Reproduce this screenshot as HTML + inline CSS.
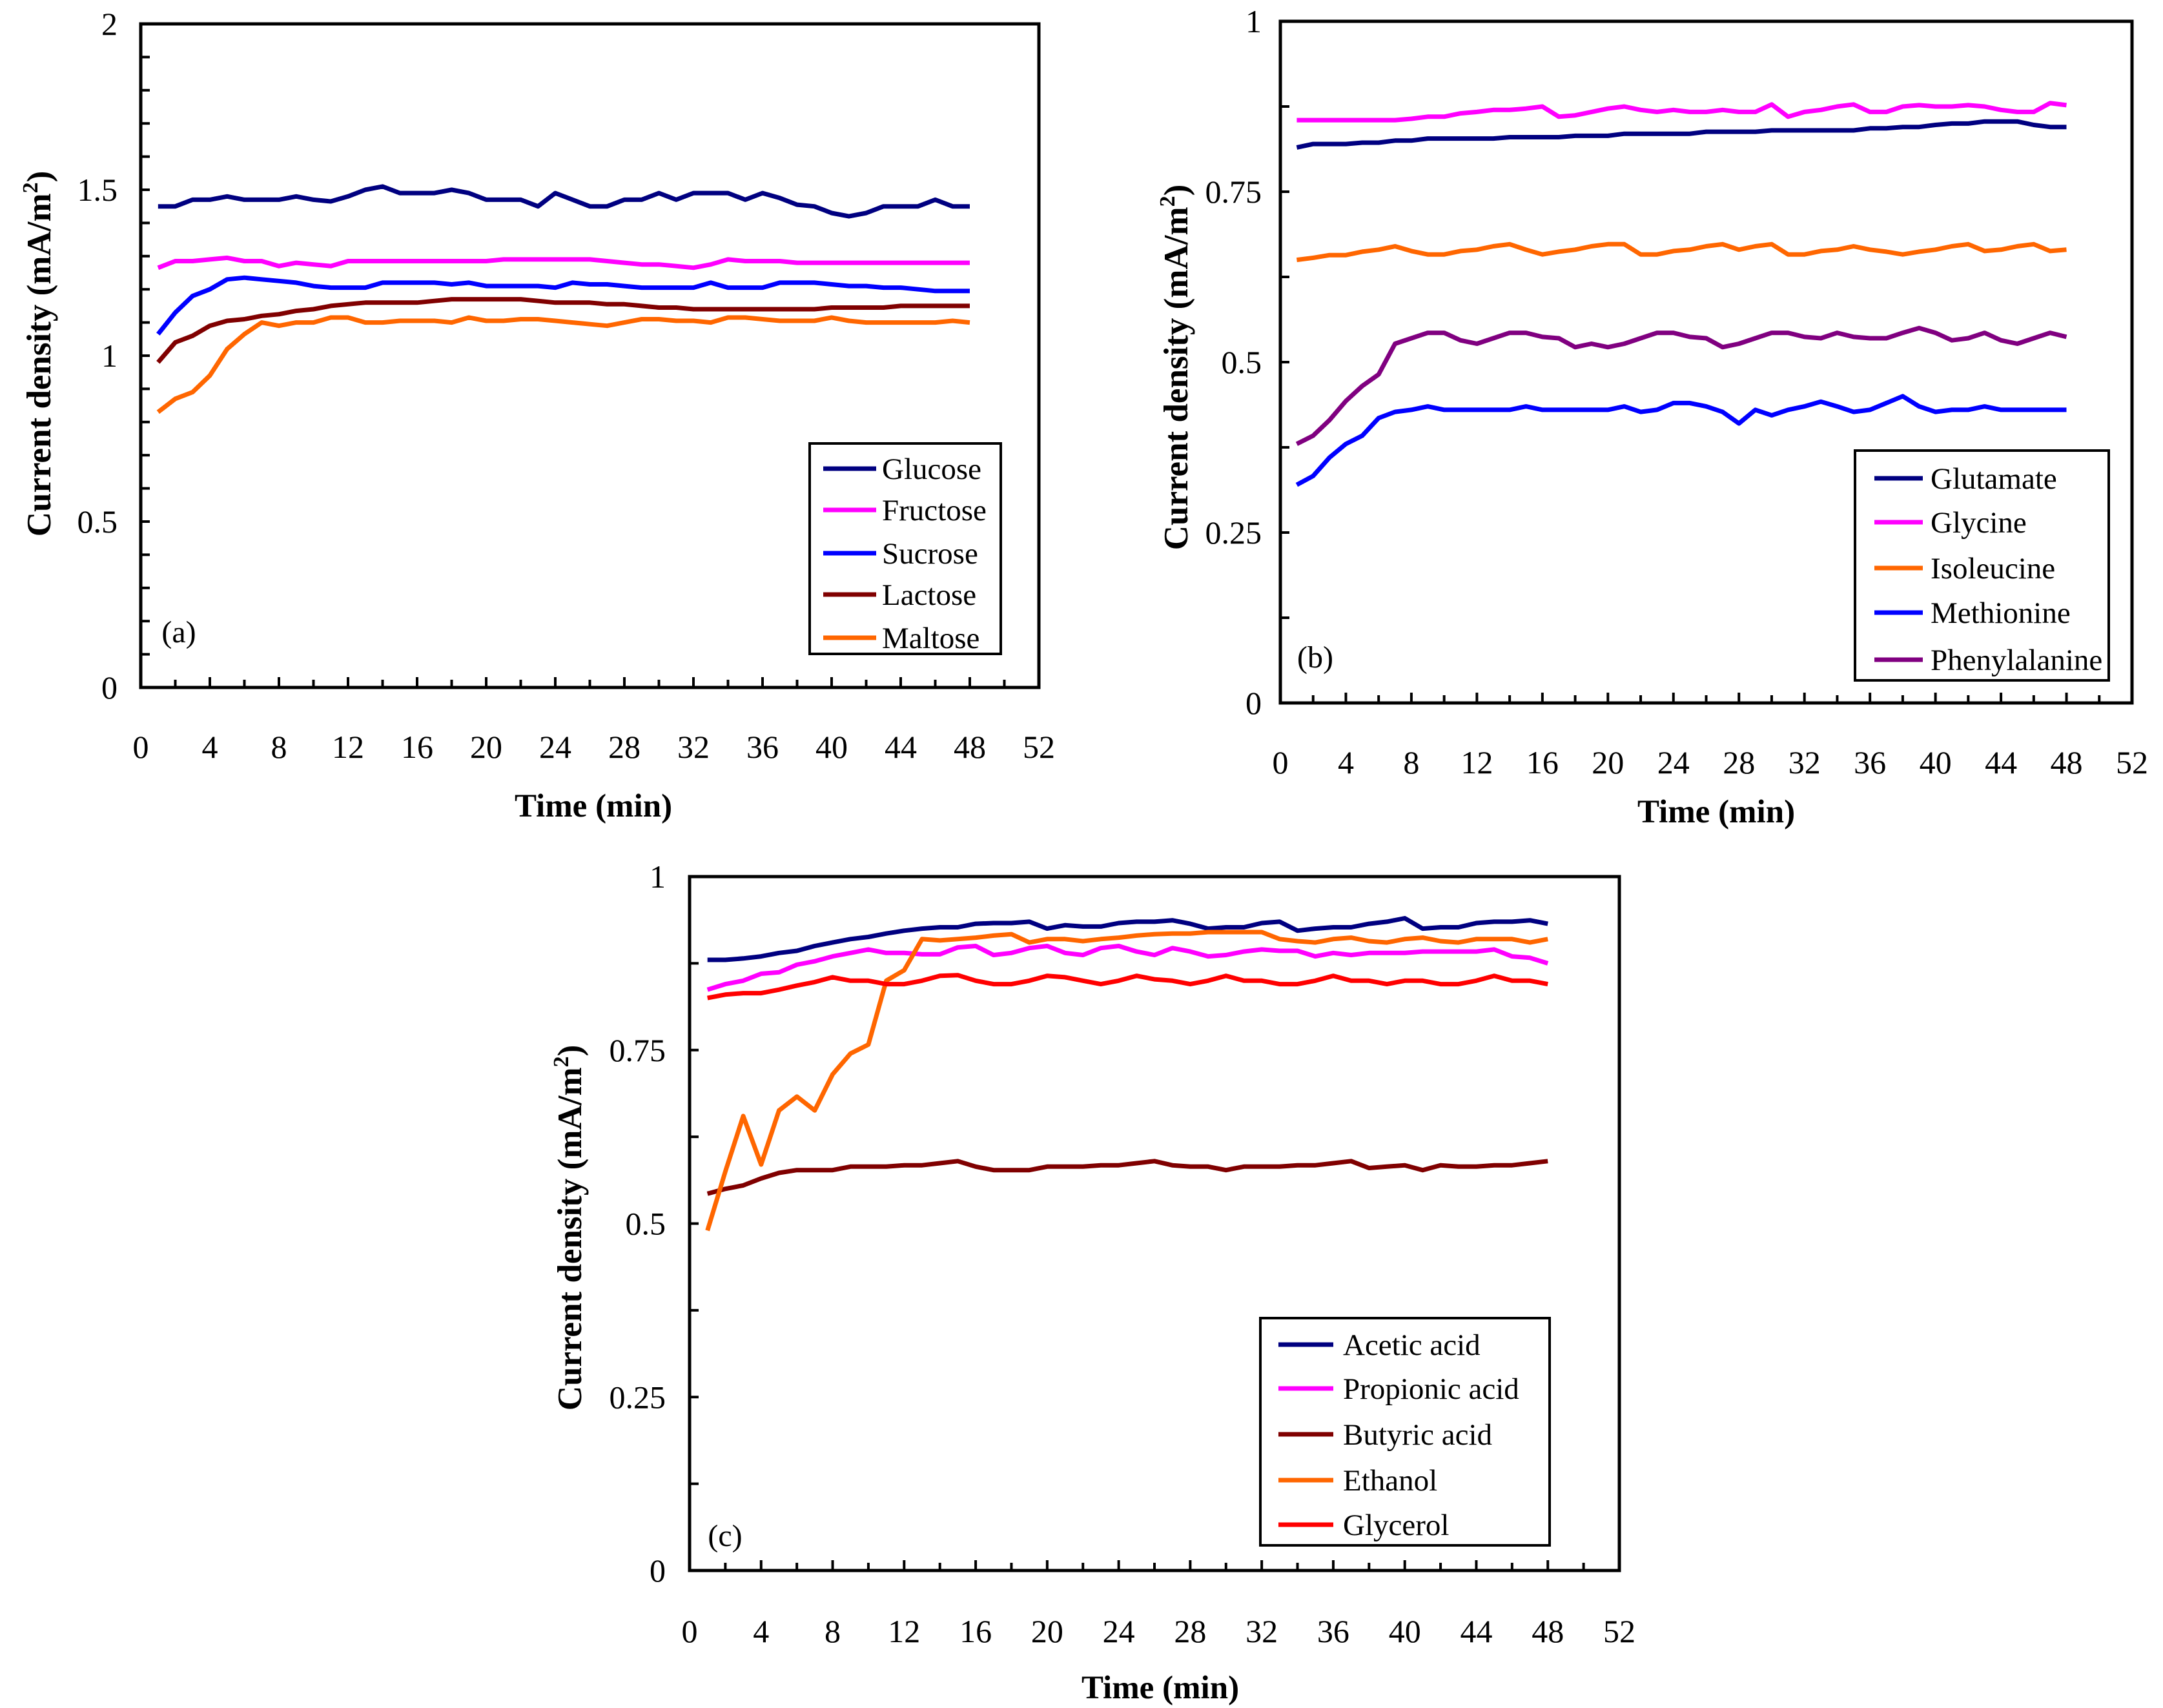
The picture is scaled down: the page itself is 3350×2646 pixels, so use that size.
<!DOCTYPE html>
<html><head><meta charset="utf-8"><style>
html,body{margin:0;padding:0;background:#fff}
svg{display:block}
text{font-family:"Liberation Serif",serif;fill:#000}
</style></head><body>
<svg id="fig" width="3350" height="2646" viewBox="0 0 3350 2646" xmlns="http://www.w3.org/2000/svg"></svg>
<script>
const xTicks=[0,4,8,12,16,20,24,28,32,36,40,44,48,52];
const aYTicks=[0,0.5,1,1.5,2];
const aYLabels=["0","0.5","1","1.5","2"];
const bYTicks=[0,0.25,0.5,0.75,1];
const bYLabels=["0","0.25","0.5","0.75","1"];
const aNames=["Glucose","Fructose","Sucrose","Lactose","Maltose"];
const bNames=["Glutamate","Glycine","Isoleucine","Methionine","Phenylalanine"];
const cNames=["Acetic acid","Propionic acid","Butyric acid","Ethanol","Glycerol"];
const glucose=[1.45,1.45,1.47,1.47,1.48,1.47,1.47,1.47,1.48,1.47,1.465,1.48,1.50,1.51,1.49,1.49,1.49,1.50,1.49,1.47,1.47,1.47,1.45,1.49,1.47,1.45,1.45,1.47,1.47,1.49,1.47,1.49,1.49,1.49,1.47,1.49,1.475,1.455,1.45,1.43,1.42,1.43,1.45,1.45,1.45,1.47,1.45,1.45];
const fructose=[1.265,1.285,1.285,1.29,1.295,1.285,1.285,1.27,1.28,1.275,1.27,1.285,1.285,1.285,1.285,1.285,1.285,1.285,1.285,1.285,1.29,1.29,1.29,1.29,1.29,1.29,1.285,1.28,1.275,1.275,1.27,1.265,1.275,1.29,1.285,1.285,1.285,1.28,1.28,1.28,1.28,1.28,1.28,1.28,1.28,1.28,1.28,1.28];
const sucrose=[1.065,1.13,1.18,1.20,1.23,1.235,1.23,1.225,1.22,1.21,1.205,1.205,1.205,1.22,1.22,1.22,1.22,1.215,1.22,1.21,1.21,1.21,1.21,1.205,1.22,1.215,1.215,1.21,1.205,1.205,1.205,1.205,1.22,1.205,1.205,1.205,1.22,1.22,1.22,1.215,1.21,1.21,1.205,1.205,1.2,1.195,1.195,1.195];
const lactose=[0.98,1.04,1.06,1.09,1.105,1.11,1.12,1.125,1.135,1.14,1.15,1.155,1.16,1.16,1.16,1.16,1.165,1.17,1.17,1.17,1.17,1.17,1.165,1.16,1.16,1.16,1.155,1.155,1.15,1.145,1.145,1.14,1.14,1.14,1.14,1.14,1.14,1.14,1.14,1.145,1.145,1.145,1.145,1.15,1.15,1.15,1.15,1.15];
const maltose=[0.83,0.87,0.89,0.94,1.02,1.065,1.1,1.09,1.1,1.1,1.115,1.115,1.1,1.1,1.105,1.105,1.105,1.1,1.115,1.105,1.105,1.11,1.11,1.105,1.1,1.095,1.09,1.1,1.11,1.11,1.105,1.105,1.1,1.115,1.115,1.11,1.105,1.105,1.105,1.115,1.105,1.1,1.1,1.1,1.1,1.1,1.105,1.1];
const glutamate=[0.815,0.82,0.82,0.82,0.822,0.822,0.825,0.825,0.828,0.828,0.828,0.828,0.828,0.83,0.83,0.83,0.83,0.832,0.832,0.832,0.835,0.835,0.835,0.835,0.835,0.838,0.838,0.838,0.838,0.84,0.84,0.84,0.84,0.84,0.84,0.843,0.843,0.845,0.845,0.848,0.85,0.85,0.853,0.853,0.853,0.848,0.845,0.845];
const glycine=[0.855,0.855,0.855,0.855,0.855,0.855,0.855,0.857,0.86,0.86,0.865,0.867,0.87,0.87,0.872,0.875,0.86,0.862,0.867,0.872,0.875,0.87,0.867,0.87,0.867,0.867,0.87,0.867,0.867,0.878,0.86,0.867,0.87,0.875,0.878,0.867,0.867,0.875,0.877,0.875,0.875,0.877,0.875,0.87,0.867,0.867,0.88,0.877];
const isoleucine=[0.65,0.653,0.657,0.657,0.662,0.665,0.67,0.663,0.658,0.658,0.663,0.665,0.67,0.673,0.665,0.658,0.662,0.665,0.67,0.673,0.673,0.658,0.658,0.663,0.665,0.67,0.673,0.665,0.67,0.673,0.658,0.658,0.663,0.665,0.67,0.665,0.662,0.658,0.662,0.665,0.67,0.673,0.663,0.665,0.67,0.673,0.663,0.665];
const methionine=[0.32,0.333,0.36,0.38,0.392,0.418,0.427,0.43,0.435,0.43,0.43,0.43,0.43,0.43,0.435,0.43,0.43,0.43,0.43,0.43,0.435,0.427,0.43,0.44,0.44,0.435,0.427,0.41,0.43,0.422,0.43,0.435,0.442,0.435,0.427,0.43,0.44,0.45,0.435,0.427,0.43,0.43,0.435,0.43,0.43,0.43,0.43,0.43];
const phenylalanine=[0.38,0.392,0.415,0.443,0.465,0.482,0.527,0.535,0.543,0.543,0.532,0.527,0.535,0.543,0.543,0.537,0.535,0.522,0.527,0.522,0.527,0.535,0.543,0.543,0.537,0.535,0.522,0.527,0.535,0.543,0.543,0.537,0.535,0.543,0.537,0.535,0.535,0.543,0.55,0.543,0.532,0.535,0.543,0.532,0.527,0.535,0.543,0.537];
const acetic=[0.88,0.88,0.882,0.885,0.89,0.893,0.9,0.905,0.91,0.913,0.918,0.922,0.925,0.927,0.927,0.932,0.933,0.933,0.935,0.925,0.93,0.928,0.928,0.933,0.935,0.935,0.937,0.932,0.925,0.927,0.927,0.933,0.935,0.922,0.925,0.927,0.927,0.932,0.935,0.94,0.925,0.927,0.927,0.933,0.935,0.935,0.937,0.932];
const propionic=[0.837,0.845,0.85,0.86,0.862,0.873,0.878,0.885,0.89,0.895,0.89,0.89,0.888,0.888,0.898,0.9,0.887,0.89,0.897,0.9,0.89,0.887,0.897,0.9,0.892,0.887,0.897,0.892,0.885,0.887,0.892,0.895,0.893,0.893,0.885,0.89,0.887,0.89,0.89,0.89,0.892,0.892,0.892,0.892,0.895,0.885,0.883,0.875];
const butyric=[0.543,0.55,0.555,0.565,0.573,0.577,0.577,0.577,0.582,0.582,0.582,0.584,0.584,0.587,0.59,0.582,0.577,0.577,0.577,0.582,0.582,0.582,0.584,0.584,0.587,0.59,0.584,0.582,0.582,0.577,0.582,0.582,0.582,0.584,0.584,0.587,0.59,0.58,0.582,0.584,0.577,0.584,0.582,0.582,0.584,0.584,0.587,0.59];
const ethanol=[0.49,0.575,0.655,0.585,0.663,0.683,0.663,0.715,0.745,0.758,0.85,0.865,0.91,0.908,0.91,0.912,0.915,0.917,0.905,0.91,0.91,0.907,0.91,0.912,0.915,0.917,0.918,0.918,0.92,0.92,0.92,0.92,0.91,0.907,0.905,0.91,0.912,0.907,0.905,0.91,0.912,0.907,0.905,0.91,0.91,0.91,0.905,0.91];
const glycerol=[0.825,0.83,0.832,0.832,0.837,0.843,0.848,0.855,0.85,0.85,0.845,0.845,0.85,0.857,0.858,0.85,0.845,0.845,0.85,0.857,0.855,0.85,0.845,0.85,0.857,0.852,0.85,0.845,0.85,0.857,0.85,0.85,0.845,0.845,0.85,0.857,0.85,0.85,0.845,0.85,0.85,0.845,0.845,0.85,0.857,0.85,0.85,0.845];

const NS="http://www.w3.org/2000/svg";
const svg=document.getElementById('fig');
function mk(tag,attrs,parent){const e=document.createElementNS(NS,tag);for(const k in attrs)e.setAttribute(k,attrs[k]);(parent||svg).appendChild(e);return e;}

function panel(cfg){
  const g=mk('g',{});
  
  
  const X=v=>cfg.L+(v-0)/52*(cfg.R-cfg.L);
  const Y=v=>cfg.B-(v/cfg.ymax)*(cfg.B-cfg.T);
  for(let v=0;v<=52;v+=2){const maj=v%4===0;const t=mk('line',{x1:X(v),x2:X(v),y1:cfg.B,y2:cfg.B-(maj?16:12),stroke:'#000','stroke-width':4},g);
    }
  for(let i=0;i<=cfg.ymax/cfg.minor+0.001;i++){const v=i*cfg.minor;const t=mk('line',{x1:cfg.L,x2:cfg.L+14,y1:Y(v),y2:Y(v),stroke:'#000','stroke-width':4},g);
    }
  const f=mk('rect',{x:cfg.L,y:cfg.T,width:cfg.R-cfg.L,height:cfg.B-cfg.T,fill:'none',stroke:'#000','stroke-width':5},g);
  
  xTicks.forEach(v=>{const t=mk('text',{x:X(v),y:cfg.xLabY,'font-size':50,'text-anchor':'middle'},g);t.textContent=v;
    });
  cfg.yTicks.forEach((v,i)=>{const t=mk('text',{x:cfg.yLabX,y:Y(v)+17,'font-size':50,'text-anchor':'end'},g);t.textContent=cfg.yLabels[i];
    });
  cfg.series.forEach((s,si)=>{
    const d=s.map((v,i)=>(i?'L':'M')+X(i+1).toFixed(1)+','+Y(v).toFixed(1)).join(' ');
    const p=mk('path',{d:d,fill:'none',stroke:cfg.colors[si],'stroke-width':7,'stroke-linejoin':'round'},g);
    
  });
  const lg=cfg.legend;
  const lb=mk('rect',{x:lg.x,y:lg.y,width:lg.w,height:lg.h,fill:'#fff',stroke:'#000','stroke-width':4},g);
  
  cfg.names.forEach((n,i)=>{
    const yy=lg.rows[i];
    const ln=mk('line',{x1:lg.lx1,x2:lg.lx2,y1:yy,y2:yy,stroke:cfg.colors[i],'stroke-width':7},g);
    
    const t=mk('text',{x:lg.tx,y:yy+16,'font-size':47},g);t.textContent=n;
    
  });
  const pl=mk('text',{x:cfg.pl[0],y:cfg.pl[1]+16,'font-size':48,'text-anchor':'middle'},g);pl.textContent=cfg.plText;
  
  const xt=mk('text',{x:cfg.xt[0],y:cfg.xt[1]+18,'font-size':51,'font-weight':'bold','text-anchor':'middle'},g);xt.textContent='Time (min)';
  
  const yt=mk('text',{x:0,y:0,'font-size':53,'font-weight':'bold','text-anchor':'middle',transform:`translate(${cfg.yt[0]+18},${cfg.yt[1]}) rotate(-90)`},g);
  yt.innerHTML='Current density (mA/m<tspan dy="-20" font-size="34">2</tspan><tspan dy="20">)</tspan>';
  
}

panel({id:'panel-a',L:218,R:1609,T:37,B:1065,ymax:2,minor:0.1,yTicks:aYTicks,yLabels:aYLabels,xLabY:1174,yLabX:182,
  series:[glucose,fructose,sucrose,lactose,maltose],names:aNames,colors:['#000080','#ff00ff','#0000ff','#800000','#ff6600'],
  legend:{x:1254,y:687,w:296,h:326,rows:[726,790,857,921,988],lx1:1275,lx2:1357,tx:1366},pl:[277,979],plText:'(a)',xt:[919,1247],yt:[60,548]});
panel({id:'panel-b',L:1983,R:3302,T:33,B:1089,ymax:1,minor:0.125,yTicks:bYTicks,yLabels:bYLabels,xLabY:1198,yLabX:1954,
  series:[glutamate,glycine,isoleucine,methionine,phenylalanine],names:bNames,colors:['#000080','#ff00ff','#ff6600','#0000ff','#800080'],
  legend:{x:2873,y:698,w:393,h:356,rows:[741,809,880,949,1022],lx1:2903,lx2:2978,tx:2990},pl:[2037,1018],plText:'(b)',xt:[2658,1256],yt:[1821,569]});
panel({id:'panel-c',L:1068,R:2508,T:1358,B:2433,ymax:1,minor:0.125,yTicks:bYTicks,yLabels:bYLabels,xLabY:2544,yLabX:1031,
  series:[acetic,propionic,butyric,ethanol,glycerol],names:cNames,colors:['#000080','#ff00ff','#800000','#ff6600','#ff0000'],
  legend:{x:1952,y:2042,w:448,h:352,rows:[2083,2151,2222,2293,2362],lx1:1980,lx2:2065,tx:2080},pl:[1123,2379],plText:'(c)',xt:[1797,2613],yt:[882,1902]});
</script>
</body></html>
